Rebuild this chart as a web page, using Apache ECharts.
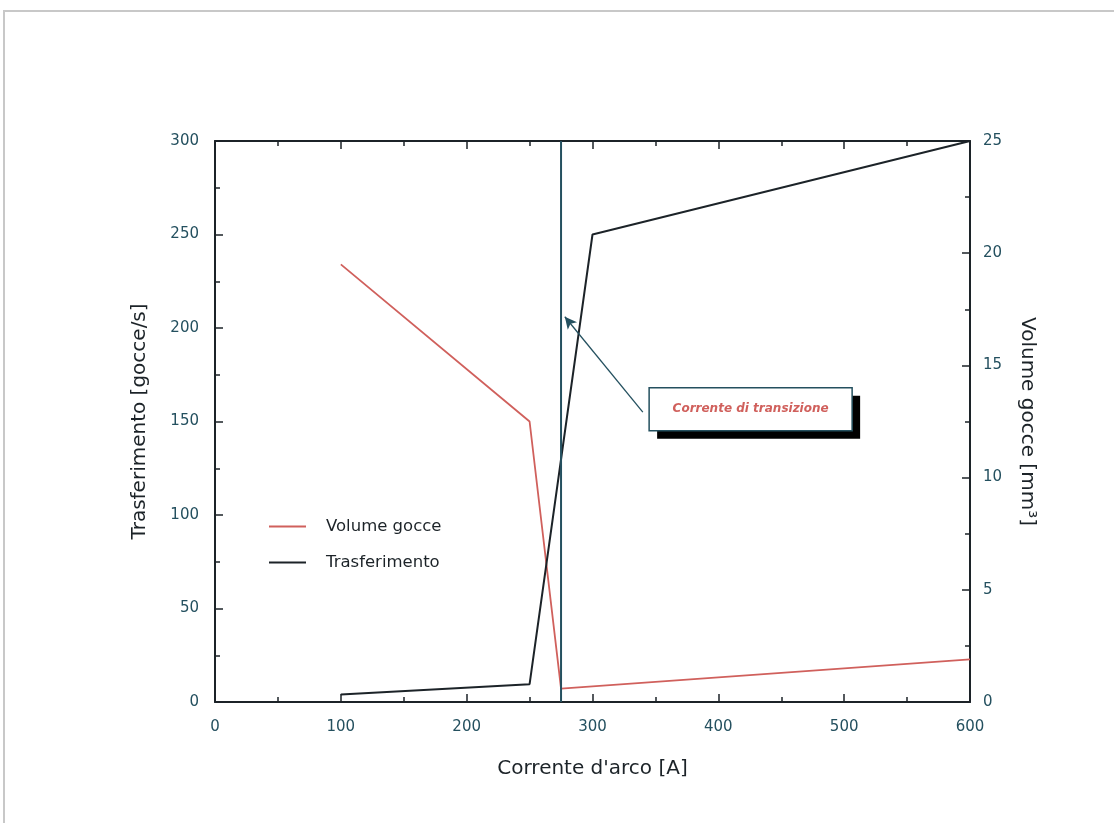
<!DOCTYPE html>
<html>
<head>
<meta charset="utf-8">
<script src="https://cdn.jsdelivr.net/npm/echarts@6/dist/echarts.min.js"></script>
<style>
  html, body { margin: 0; padding: 0; background: #fff; }
  #main { width: 1114px; height: 823px; }
</style>
</head>
<body>
<div id="main"></div>
<script>
// Corrente d'arco [A]
const transferCurrent = [100, 250, 300, 600]
// Trasferimento [gocce/s]
const transferRate = [4, 9.5, 250, 300]
const volumeCurrent = [100, 250, 275, 600]
// Volume gocce [mm3]
const dropVolume = [19.5, 12.5, 0.6, 1.9]
// corrente di transizione
const transitionCurrent = 275

const RED = '#d0605c'
const DARK = '#1c2328'
const TEAL = '#24505f'
const FONT = 'DejaVu Sans'

const chart = echarts.init(document.getElementById('main'))

const axisLine = { show: true, onZero: false, lineStyle: { color: DARK, width: 2 } }
const axisTick = { inside: true, length: 8, lineStyle: { color: DARK, width: 1.5 } }
const minorTick = { show: true, splitNumber: 2, length: 5, lineStyle: { color: DARK, width: 1.5 } }
const nameStyle = { fontFamily: FONT, fontSize: 20, color: DARK }

const option = {
  animation: false,
  backgroundColor: '#fff',
  grid: { left: 215, right: 144, top: 141, bottom: 121 },
  legend: {
    orient: 'vertical',
    left: 264,
    top: 513,
    itemWidth: 37,
    itemHeight: 2,
    itemGap: 19,
    icon: 'rect',
    data: ['Volume gocce', 'Trasferimento'],
    textStyle: { fontFamily: FONT, fontSize: 16.5, color: DARK, padding: [0, 0, 0, 15] }
  },
  xAxis: [{
    type: 'value',
    min: 0,
    max: 600,
    interval: 100,
    name: "Corrente d'arco [A]",
    nameLocation: 'middle',
    nameGap: 57,
    nameTextStyle: nameStyle,
    axisLine: axisLine,
    axisTick: axisTick,
    minorTick: minorTick,
    axisLabel: { fontFamily: FONT, fontSize: 15, color: TEAL, margin: 18 },
    splitLine: { show: false }
  }, {
    type: 'value',
    position: 'top',
    min: 0,
    max: 600,
    interval: 100,
    axisLine: axisLine,
    axisTick: axisTick,
    minorTick: minorTick,
    axisLabel: { show: false },
    splitLine: { show: false }
  }],
  yAxis: [{
    type: 'value',
    min: 0,
    max: 300,
    interval: 50,
    name: 'Trasferimento [gocce/s]',
    nameLocation: 'middle',
    nameGap: 65,
    nameTextStyle: nameStyle,
    axisLine: axisLine,
    axisTick: axisTick,
    minorTick: minorTick,
    axisLabel: { fontFamily: FONT, fontSize: 15, color: TEAL, margin: 16 },
    splitLine: { show: false }
  }, {
    type: 'value',
    position: 'right',
    min: 0,
    max: 25,
    interval: 5,
    name: 'Volume gocce [mm³]',
    nameLocation: 'middle',
    nameRotate: -90,
    nameGap: 47,
    nameTextStyle: nameStyle,
    axisLine: axisLine,
    axisTick: axisTick,
    minorTick: minorTick,
    axisLabel: { fontFamily: FONT, fontSize: 15, color: TEAL, margin: 13 },
    splitLine: { show: false }
  }],
  series: [{
    name: 'Volume gocce',
    type: 'line',
    yAxisIndex: 1,
    symbol: 'none',
    itemStyle: { color: RED },
    lineStyle: { color: RED, width: 1.8 },
    data: volumeCurrent.map((c, i) => [c, dropVolume[i]])
  }, {
    name: 'Trasferimento',
    type: 'line',
    yAxisIndex: 0,
    symbol: 'none',
    itemStyle: { color: DARK },
    lineStyle: { color: DARK, width: 2 },
    data: transferCurrent.map((c, i) => [c, transferRate[i]])
  }, {
    name: 'transizione',
    type: 'line',
    yAxisIndex: 0,
    symbol: 'none',
    lineStyle: { color: TEAL, width: 2 },
    data: [[transitionCurrent, 0], [transitionCurrent, 300]],
    markLine: {
      silent: true,
      symbol: ['none', 'arrow'],
      symbolSize: [9, 12],
      label: { show: false },
      lineStyle: { color: TEAL, width: 1.3, type: 'solid' },
      data: [[{ coord: [340, 155] }, { coord: [278, 206] }]]
    }
  }]
}

chart.setOption(option)

// annotation box "Corrente di transizione"
const tl = chart.convertToPixel({ xAxisIndex: 0, yAxisIndex: 0 }, [345, 168])
const bw = 203, bh = 43
chart.setOption({
  graphic: [
    { type: 'line', shape: { x1: 3, y1: 11, x2: 1114, y2: 11 }, style: { stroke: '#c8c8c8', lineWidth: 2 } },
    { type: 'line', shape: { x1: 4, y1: 11, x2: 4, y2: 823 }, style: { stroke: '#c8c8c8', lineWidth: 2 } },
    { type: 'rect', shape: { x: tl[0] + 8, y: tl[1] + 8, width: bw, height: bh }, style: { fill: '#000' }, z: 100 },
    { type: 'rect', shape: { x: tl[0], y: tl[1], width: bw, height: bh }, style: { fill: '#fff', stroke: TEAL, lineWidth: 1.5 }, z: 101 },
    {
      type: 'text', x: tl[0] + bw / 2, y: tl[1] + bh / 2, z: 102,
      style: {
        text: 'Corrente di transizione', fill: RED, font: 'italic bold 12px "DejaVu Sans"',
        align: 'center', verticalAlign: 'middle'
      }
    }
  ]
})
</script>
</body>
</html>
